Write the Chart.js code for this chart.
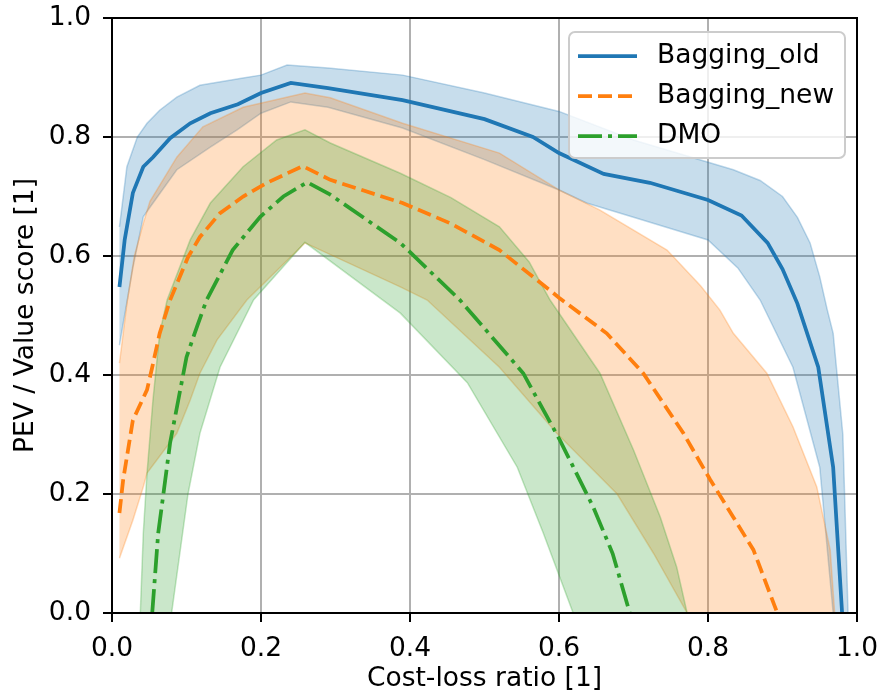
<!DOCTYPE html>
<html>
<head>
<meta charset="utf-8">
<script src="https://cdn.jsdelivr.net/npm/chart.js@4.4.1/dist/chart.umd.min.js"></script>
<style>
  html, body { margin: 0; padding: 0; background: #fff; }
  #wrap { width: 882px; height: 695px; }
</style>
</head>
<body>
<div id="wrap"><canvas id="chart" width="882" height="695"></canvas></div>
<script>
// values, [cost-loss ratio, score]
const xTicks = [0, 0.2, 0.4, 0.6, 0.8, 1.0];
const yTicks = [0, 0.2, 0.4, 0.6, 0.8, 1.0];

const oldMean = [[0.01,0.548],[0.017,0.627],[0.028,0.706],[0.042,0.75],[0.055,0.766],[0.078,0.798],[0.105,0.823],
  [0.132,0.84],[0.169,0.855],[0.2,0.874],[0.24,0.891],[0.29,0.882],[0.39,0.862],[0.5,0.83],[0.565,0.80],[0.6,0.773],
  [0.66,0.738],[0.722,0.723],[0.8,0.694],[0.845,0.668],[0.88,0.622],[0.9,0.578],[0.92,0.52],[0.948,0.413],
  [0.968,0.245],[0.98,0.0]];
const oldUpper = [[0.01,0.649],[0.02,0.75],[0.034,0.80],[0.047,0.823],[0.064,0.845],[0.087,0.867],[0.118,0.887],
  [0.176,0.899],[0.2,0.904],[0.235,0.921],[0.29,0.916],[0.39,0.904],[0.5,0.874],[0.6,0.843],[0.7,0.795],[0.834,0.745],
  [0.87,0.727],[0.9,0.70],[0.92,0.665],[0.937,0.622],[0.95,0.565],[0.96,0.51],[0.968,0.47],[0.981,0.30],[0.988,0.0]];
const oldLower = [[0.01,0.45],[0.028,0.58],[0.042,0.666],[0.051,0.682],[0.087,0.745],[0.132,0.783],[0.168,0.812],
  [0.2,0.84],[0.24,0.859],[0.29,0.85],[0.39,0.815],[0.5,0.762],[0.6,0.711],[0.637,0.689],[0.7,0.665],[0.8,0.627],
  [0.84,0.58],[0.87,0.526],[0.914,0.413],[0.95,0.245],[0.968,0.0]];

const newMean = [[0.01,0.168],[0.015,0.224],[0.028,0.324],[0.047,0.375],[0.054,0.413],[0.064,0.47],[0.078,0.526],
  [0.102,0.598],[0.118,0.632],[0.145,0.672],[0.176,0.70],[0.208,0.723],[0.256,0.751],[0.293,0.728],[0.39,0.689],
  [0.454,0.655],[0.52,0.61],[0.6,0.53],[0.664,0.47],[0.713,0.403],[0.767,0.302],[0.803,0.224],[0.834,0.161],
  [0.861,0.106],[0.893,0.0]];
const newUpper = [[0.01,0.42],[0.02,0.52],[0.03,0.60],[0.042,0.655],[0.051,0.692],[0.087,0.766],[0.122,0.817],
  [0.176,0.85],[0.259,0.874],[0.293,0.866],[0.39,0.823],[0.52,0.773],[0.6,0.711],[0.655,0.677],[0.745,0.61],
  [0.79,0.55],[0.816,0.509],[0.834,0.47],[0.879,0.403],[0.914,0.313],[0.946,0.212],[0.964,0.106],[0.97,0.0]];
const newLower = [[0.01,0.092],[0.028,0.156],[0.042,0.212],[0.047,0.235],[0.087,0.302],[0.105,0.358],[0.118,0.403],
  [0.141,0.459],[0.181,0.526],[0.259,0.622],[0.387,0.548],[0.423,0.526],[0.52,0.413],[0.597,0.302],[0.678,0.20],
  [0.727,0.10],[0.772,0.0]];

const dmoMean = [[0.054,0.0],[0.062,0.134],[0.069,0.20],[0.078,0.286],[0.089,0.358],[0.1,0.43],[0.114,0.481],
  [0.127,0.526],[0.162,0.61],[0.199,0.666],[0.23,0.70],[0.262,0.724],[0.293,0.703],[0.387,0.622],[0.467,0.526],
  [0.552,0.403],[0.601,0.291],[0.646,0.178],[0.672,0.10],[0.695,0.0]];
const dmoUpper = [[0.038,0.0],[0.042,0.134],[0.047,0.235],[0.055,0.358],[0.064,0.47],[0.074,0.526],[0.105,0.627],
  [0.132,0.689],[0.176,0.75],[0.221,0.795],[0.259,0.812],[0.293,0.79],[0.387,0.739],[0.455,0.698],[0.52,0.649],
  [0.56,0.59],[0.588,0.526],[0.655,0.403],[0.70,0.274],[0.736,0.161],[0.758,0.077],[0.772,0.0]];
const dmoLower = [[0.08,0.0],[0.102,0.20],[0.118,0.302],[0.145,0.413],[0.19,0.526],[0.259,0.623],[0.387,0.504],
  [0.477,0.387],[0.544,0.245],[0.579,0.134],[0.619,0.0]];

const BLUE = '#1f77b4', ORANGE = '#ff7f0e', GREEN = '#2ca02c';
const FONT = '"DejaVu Sans"', FONT_SIZE = 26.5;

const pts = arr => arr.map(([x, y]) => ({x, y}));
// closed outline: upper edge left->right, lower edge back right->left
const band = (upper, lower) => pts(upper.concat(lower.slice().reverse()));

function meanLine(label, data, color, dash) {
  return { label, data: pts(data), borderColor: color, borderWidth: 3.75, borderDash: dash,
    pointRadius: 0, tension: 0, fill: false, showInLegend: true };
}
function bandArea(data, rgb) {
  return { label: '', data, fill: 'shape', backgroundColor: `rgba(${rgb},0.25)`,
    borderColor: `rgba(${rgb},0.28)`, borderWidth: 1.5, pointRadius: 0, tension: 0 };
}

// spines on all four sides + matplotlib-like legend box
const frameAndLegend = {
  id: 'frameAndLegend',
  afterDraw(chart) {
    const {ctx, chartArea: a} = chart;
    ctx.save();
    ctx.strokeStyle = '#000';
    ctx.lineWidth = 2;
    ctx.strokeRect(a.left, a.top, a.right - a.left, a.bottom - a.top);

    const bx = a.right - 288, by = a.top + 14, bw = 276, bh = 126;
    ctx.beginPath();
    ctx.roundRect(bx, by, bw, bh, 6);
    ctx.fillStyle = 'rgba(255,255,255,0.8)';
    ctx.fill();
    ctx.strokeStyle = '#cccccc';
    ctx.lineWidth = 2;
    ctx.stroke();

    ctx.font = `${FONT_SIZE}px ${FONT}`;
    ctx.textBaseline = 'middle';
    ctx.fillStyle = '#000';
    chart.data.datasets.filter(d => d.showInLegend).forEach((d, i) => {
      const y = by + 24 + i * 40;
      ctx.beginPath();
      ctx.setLineDash(d.borderDash || []);
      ctx.strokeStyle = d.borderColor;
      ctx.lineWidth = d.borderWidth;
      ctx.moveTo(bx + 9, y);
      ctx.lineTo(bx + 68, y);
      ctx.stroke();
      ctx.setLineDash([]);
      ctx.fillText(d.label, bx + 88, y);
    });
    ctx.restore();
  }
};

Chart.defaults.font.family = FONT;
Chart.defaults.font.size = FONT_SIZE;
Chart.defaults.color = '#000';

// fixed axis sizes so the plot area sits where the reference has it
const fitX = s => { s.height = 82; s.paddingLeft = 0; s.paddingRight = 0; };
const fitY = s => { s.width = 112; s.paddingTop = 0; s.paddingBottom = 0; };

new Chart(document.getElementById('chart'), {
  type: 'line',
  data: {
    datasets: [
      meanLine('Bagging_old', oldMean, BLUE, []),
      meanLine('Bagging_new', newMean, ORANGE, [14, 6]),
      meanLine('DMO', dmoMean, GREEN, [24, 6, 4, 6]),
      bandArea(band(dmoUpper, dmoLower), '44,160,44'),
      bandArea(band(newUpper, newLower), '255,127,14'),
      bandArea(band(oldUpper, oldLower), '31,119,180')
    ]
  },
  options: {
    responsive: false,
    animation: false,
    layout: { padding: { left: 0, top: 18, right: 25, bottom: 0 } },
    plugins: { legend: { display: false }, tooltip: { enabled: false } },
    scales: {
      x: {
        type: 'linear', min: 0, max: 1,
        afterBuildTicks: s => { s.ticks = xTicks.map(v => ({ value: v })); },
        afterFit: fitX,
        ticks: { padding: 11, maxRotation: 0, callback: v => v.toFixed(1) },
        grid: { color: '#b0b0b0', lineWidth: 2, tickColor: '#000', tickLength: 9, tickWidth: 2 },
        border: { color: '#000', width: 2 },
        title: { display: true, text: 'Cost-loss ratio [1]', padding: { top: 0, bottom: 0 } }
      },
      y: {
        type: 'linear', min: 0, max: 1,
        afterBuildTicks: s => { s.ticks = yTicks.map(v => ({ value: v })); },
        afterFit: fitY,
        ticks: { padding: 12, callback: v => v.toFixed(1) },
        grid: { color: '#b0b0b0', lineWidth: 2, tickColor: '#000', tickLength: 9, tickWidth: 2 },
        border: { color: '#000', width: 2 },
        title: { display: true, text: 'PEV / Value score [1]', padding: { top: 10, bottom: 0 } }
      }
    }
  },
  plugins: [frameAndLegend]
});
</script>
</body>
</html>
